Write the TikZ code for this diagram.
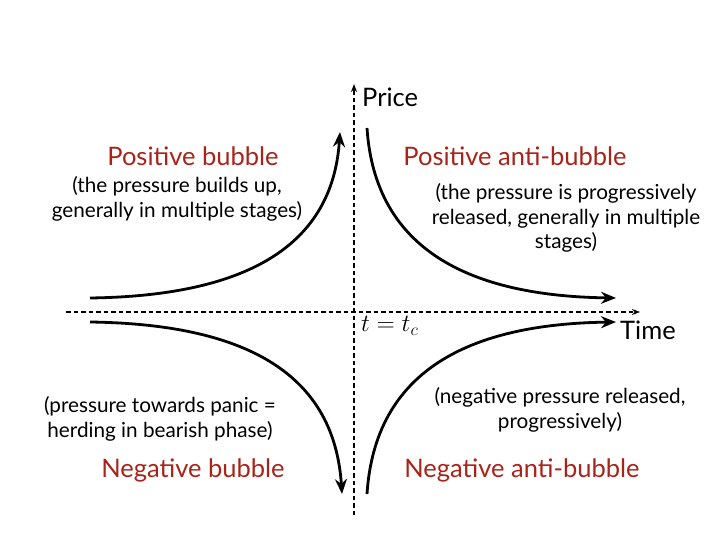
\documentclass[tikz,border=0pt]{standalone}
\usepackage{fontspec}
\setmainfont{Lato}
\usetikzlibrary{arrows.meta}
\definecolor{bubred}{RGB}{168,36,26}
\begin{document}
\begin{tikzpicture}[x=1pt,y=-1pt,
  axis/.style={line width=1.8pt,dash pattern=on 4.5pt off 3pt,-{Stealth[length=8pt,width=6pt]}},
  curve/.style={line width=2.8pt,-{Stealth[length=15pt,width=12pt]}},
  title/.style={text=bubred,font=\fontsize{25.5}{28}\selectfont},
  note/.style={font=\fontsize{20.7}{24.5}\selectfont,align=center},
  axlabel/.style={font=\fontsize{25.5}{28}\selectfont}]
\useasboundingbox (0,0) rectangle (720,540);
% axes
\coordinate (vb) at (354,515);
\coordinate (vt) at (354,84);
\coordinate (hl) at (66,312);
\coordinate (hr) at (640,312);
\draw[axis] (vb) -- (vt);
\draw[axis] (hl) -- (hr);
\node[axlabel,anchor=west,inner sep=2pt] (price) at (360,97) {Price};
\node[axlabel,anchor=west,inner sep=2pt] (time) at (618,330) {Time};
\node[anchor=west,inner sep=2pt,font=\fontsize{23.5}{26}\selectfont] (tc) at (359,326) {$t=t_c$};
% curves
\coordinate (a1) at (90,298);
\coordinate (a2) at (340,132);
\draw[curve] (a1) .. controls (240,296) and (332,250) .. (a2);
\coordinate (b1) at (367,128);
\coordinate (b2) at (616,298);
\draw[curve] (b1) .. controls (375,250) and (470,296) .. (b2);
\coordinate (c1) at (90,322);
\coordinate (c2) at (342,494);
\draw[curve] (c1) .. controls (240,324) and (334,370) .. (c2);
\coordinate (d1) at (367,494);
\coordinate (d2) at (616,322);
\draw[curve] (d1) .. controls (375,370) and (470,324) .. (d2);
% labels
\node[title] (pb) at (193,156) {Positive bubble};
\node[note] (pbn) at (177,199) {(the pressure builds up,\\generally in multiple stages)};
\node[title] (pab) at (515,156) {Positive anti-bubble};
\node[note] (pabn) at (566,218) {(the pressure is progressively\\released, generally in multiple\\stages)};
\node[note] (nbn) at (160,419) {(pressure towards panic =\\herding in bearish phase)};
\node[title] (nb) at (193,470) {Negative bubble};
\node[note] (nabn) at (560,410) {(negative pressure released,\\progressively)};
\node[title] (nab) at (522,470) {Negative anti-bubble};
\end{tikzpicture}
\end{document}
